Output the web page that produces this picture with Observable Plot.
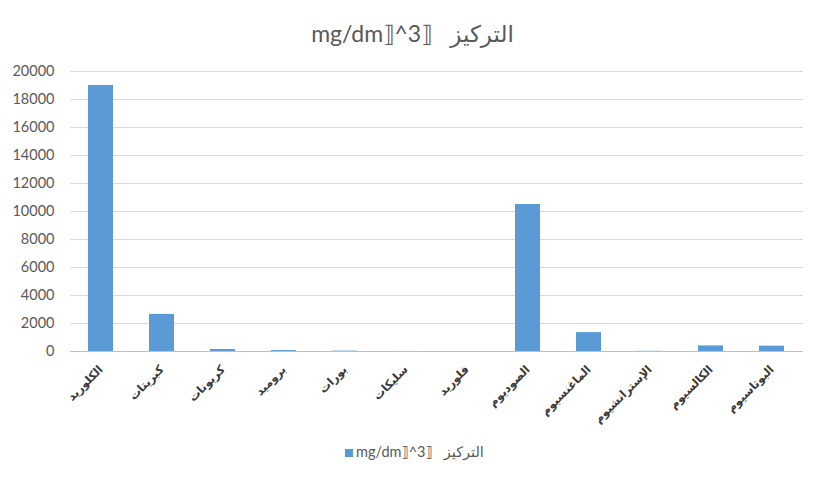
<!DOCTYPE html>
<html>
<head>
<meta charset="utf-8">
<script src="https://cdn.jsdelivr.net/npm/d3@7"></script>
<script src="https://cdn.jsdelivr.net/npm/@observablehq/plot@0.6"></script>
<style>
  body { margin: 0; background: #fff; width: 821px; height: 482px; overflow: hidden; font-family: Lato, "DejaVu Sans", sans-serif; }
  #title { height: 55px; text-align: center; font-size: 23px; color: #595959; line-height: 22px; padding-top: 22px; box-sizing: border-box; padding-left: 4px; }
  #legend { text-align: center; font-size: 14.5px; color: #595959; margin-top: 2px; padding-left: 8px; }
  #legend .sw { display: inline-block; width: 8px; height: 8px; background: #5b9bd5; margin-right: 3px; vertical-align: 0px; }
</style>
</head>
<body>
<div id="title">mg/dm⟧^3⟧&nbsp;&nbsp; التركيز</div>
<div id="chart"></div>
<div id="legend"><span class="sw"></span>mg/dm⟧^3⟧&nbsp;&nbsp; التركيز</div>
<script>
const categories = ["الكلوريد", "كبريتات", "كربونات", "بروميد", "بورات", "سليكات", "فلوريد", "الصوديوم", "الماغنسيوم", "الإسترانشيوم", "الكالسيوم", "البوتاسيوم"];
const values = [19000, 2650, 140, 65, 26, 3, 1.3, 10500, 1350, 13, 400, 380];
const yTicks = [0, 2000, 4000, 6000, 8000, 10000, 12000, 14000, 16000, 18000, 20000];

const data = categories.map((c, i) => ({name: c, value: values[i]}));

const chart = Plot.plot({
  width: 821,
  height: 386,
  marginLeft: 70,
  marginRight: 18,
  marginTop: 16,
  marginBottom: 90,
  style: {fontFamily: "Lato, 'DejaVu Sans', sans-serif", background: "#fff"},
  x: {domain: categories, paddingInner: 0.59, paddingOuter: 0.295, label: null},
  y: {domain: [0, 20000], label: null},
  marks: [
    Plot.gridY(yTicks, {stroke: "#d9d9d9", strokeOpacity: 1}),
    Plot.ruleY([0], {stroke: "#bfbfbf"}),
    Plot.barY(data, {x: "name", y: "value", fill: "#5b9bd5"}),
    Plot.axisY(yTicks, {tickSize: 0, tickPadding: 16, fontSize: 14.5, fill: "#595959", tickFormat: d => String(d), label: null}),
    Plot.axisX({tickSize: 0, tickRotate: -45, tickPadding: 16, fontSize: 11.5, fontWeight: "bold", fill: "#3a3a3a", label: null, fontFamily: "'DejaVu Sans', sans-serif"})
  ]
});
document.getElementById("chart").appendChild(chart);
</script>
</body>
</html>
